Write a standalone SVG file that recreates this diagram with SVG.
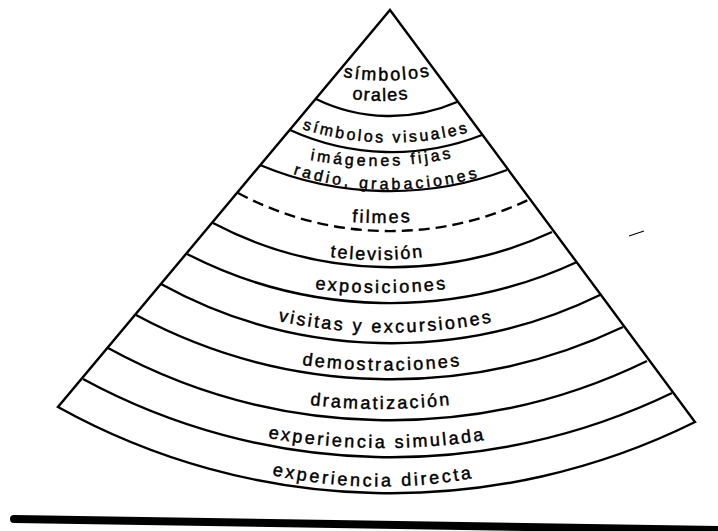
<svg xmlns="http://www.w3.org/2000/svg" width="718" height="531" viewBox="0 0 718 531">
<style>
.ln{fill:none;stroke:#000;stroke-width:2.4;stroke-linejoin:miter;stroke-linecap:butt}
.dash{stroke-dasharray:11 6}
.lbl{font-family:"Liberation Sans",Arial,sans-serif;font-size:18px;fill:#000;stroke:#000;stroke-width:0.45}
.sm{font-size:16px}
</style>
<defs>
<path id="p1" d="M343,77 A240,240 0 0 0 430,76"/>
<path id="p2" d="M352,99 A200,200 0 0 0 408,99"/>
<path id="p3" d="M302,129 A300,300 0 0 0 470,132"/>
<path id="p4" d="M310,160 A364,364 0 0 0 452,158"/>
<path id="p5" d="M293,174 A320,320 0 0 0 480,177"/>
<path id="p6" d="M352,222 A420,420 0 0 0 410,222"/>
<path id="p7" d="M330,257 A362,362 0 0 0 423,257"/>
<path id="p8" d="M315,289 A540,540 0 0 0 446,289"/>
<path id="p9" d="M278,321 A530,530 0 0 0 493,322"/>
<path id="p10" d="M302,365 A626,626 0 0 0 460,366"/>
<path id="p11" d="M310,405 A615,615 0 0 0 450,405"/>
<path id="p12" d="M268,438 A660,660 0 0 0 485,440"/>
<path id="p13" d="M272,475 A510,510 0 0 0 473,478"/>
</defs>
<g id="cone">
<path class="ln" d="M390,10 L695,422 A685,685 0 0 1 58,407 Z"/>
</g>
<g id="connectors">
<path class="ln" d="M316,99 A168,168 0 0 0 457,102"/>
<path class="ln" d="M290,130 A246,246 0 0 0 482,135"/>
<path class="ln" d="M260,165 A336,336 0 0 0 507,170"/>
<path class="ln dash" d="M238,193 A322,322 0 0 0 528,200"/>
<path class="ln" d="M213,223 A383,383 0 0 0 552,232"/>
<path class="ln" d="M187,254 A445,445 0 0 0 577,262"/>
<path class="ln" d="M161,284 A477,477 0 0 0 600,295"/>
<path class="ln" d="M136,315 A540,540 0 0 0 623,327"/>
<path class="ln" d="M108,348 A587,587 0 0 0 647,361"/>
<path class="ln" d="M83,379 A646,646 0 0 0 672,393"/>
</g>
<g id="simbolos-orales"><text class="lbl"><textPath href="#p1" textLength="87" lengthAdjust="spacing">símbolos</textPath></text><text class="lbl"><textPath href="#p2" textLength="56" lengthAdjust="spacing">orales</textPath></text></g>
<g id="simbolos-visuales"><text class="lbl sm"><textPath href="#p3" textLength="168" lengthAdjust="spacing">símbolos visuales</textPath></text></g>
<g id="imagenes-fijas"><text class="lbl sm"><textPath href="#p4" textLength="142" lengthAdjust="spacing">imágenes fijas</textPath></text><text class="lbl sm"><textPath href="#p5" textLength="187" lengthAdjust="spacing">radio, grabaciones</textPath></text></g>
<g id="filmes"><text class="lbl"><textPath href="#p6" textLength="58" lengthAdjust="spacing">filmes</textPath></text></g>
<g id="television"><text class="lbl"><textPath href="#p7" textLength="93" lengthAdjust="spacing">televisión</textPath></text></g>
<g id="exposiciones"><text class="lbl"><textPath href="#p8" textLength="131" lengthAdjust="spacing">exposiciones</textPath></text></g>
<g id="visitas"><text class="lbl"><textPath href="#p9" textLength="215" lengthAdjust="spacing">visitas y excursiones</textPath></text></g>
<g id="demostraciones"><text class="lbl"><textPath href="#p10" textLength="158" lengthAdjust="spacing">demostraciones</textPath></text></g>
<g id="dramatizacion"><text class="lbl"><textPath href="#p11" textLength="140" lengthAdjust="spacing">dramatización</textPath></text></g>
<g id="experiencia-simulada"><text class="lbl"><textPath href="#p12" textLength="217" lengthAdjust="spacing">experiencia simulada</textPath></text></g>
<g id="experiencia-directa"><text class="lbl"><textPath href="#p13" textLength="201" lengthAdjust="spacing">experiencia directa</textPath></text></g>
<g id="marks">
<line x1="629" y1="236" x2="644" y2="231" stroke="#000" stroke-width="1.2"/>
<path d="M14,515 L718,526 L718,534 L14,523 A4,4 0 0 1 14,515 Z" fill="#000"/>
</g>
</svg>
